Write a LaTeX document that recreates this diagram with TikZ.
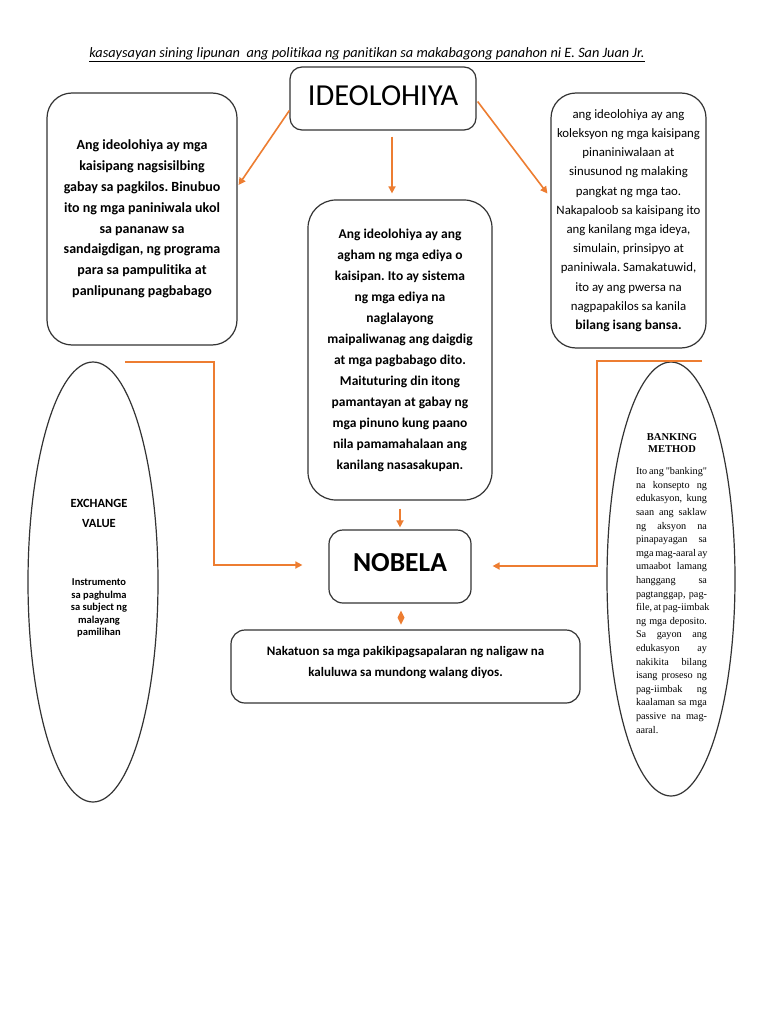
\documentclass[tikz,border=0pt]{standalone}
\usepackage{fontspec}
\setmainfont[Ligatures=NoCommon]{Carlito}
\newfontfamily\timesf{Liberation Serif}
\usetikzlibrary{arrows.meta,calc,shapes.geometric}
\definecolor{org}{HTML}{ED7D31}
\definecolor{bx}{HTML}{333333}
\newcommand{\jl}[1]{\makebox[71pt][s]{#1}\\}
\frenchspacing
\begin{document}
\begin{tikzpicture}[x=1pt,y=-1pt,
  rbox/.style={draw=bx,line width=1.2pt,inner sep=0pt,align=center},
  conn/.style={draw=org,line width=1.6pt,-{Triangle[length=7pt,width=7pt]}},
  txt/.style={inner sep=0pt,align=center}]
\fill[white] (0,0) rectangle (768,1024);
\useasboundingbox (0,0) rectangle (768,1024);

\node[txt,font=\fontsize{14.3}{16}\selectfont\itshape] (title) at (367,55)
  {\underline{kasaysayan sining lipunan\ \ ang politikaa ng panitikan sa makabagong panahon ni E. San Juan Jr.}};

% IDEOLOHIYA
\node[rbox,rounded corners=12pt,minimum width=186pt,minimum height=63pt] (ideo) at (383,98.5) {};
\node[txt,font=\fontsize{30.5}{32}\selectfont] (ideot) at ($(ideo.center)+(0,-3)$) {IDEOLOHIYA};

% left box
\node[rbox,rounded corners=25pt,minimum width=190pt,minimum height=252pt,
  font=\fontsize{14}{20.8}\selectfont\bfseries] (lbox) at (142,219)
  {Ang ideolohiya ay mga\\ kaisipang nagsisilbing\\ gabay sa pagkilos. Binubuo\\ ito ng mga paniniwala ukol\\ sa pananaw sa\\ sandaigdigan, ng programa\\ para sa pampulitika at\\ panlipunang pagbabago};

% right box
\node[rbox,rounded corners=25pt,minimum width=155pt,minimum height=255pt,
  font=\fontsize{12.8}{19.2}\selectfont] (rbox) at (628.5,220.5)
  {ang ideolohiya ay ang\\ koleksyon ng mga kaisipang\\ pinaniniwalaan at\\ sinusunod ng malaking\\ pangkat ng mga tao.\\ Nakapaloob sa kaisipang ito\\ ang kanilang mga ideya,\\ simulain, prinsipyo at\\ paniniwala. Samakatuwid,\\ ito ay ang pwersa na\\ nagpapakilos sa kanila\\ {\fontsize{13.5}{19.2}\selectfont\bfseries bilang isang bansa.}};

% middle box
\node[rbox,rounded corners=28pt,minimum width=184pt,minimum height=300pt,
  font=\fontsize{13.5}{21}\selectfont\bfseries] (mid) at (400,350)
  {Ang ideolohiya ay ang\\ agham ng mga ediya o\\ kaisipan. Ito ay sistema\\ ng mga ediya na\\ naglalayong\\ maipaliwanag ang daigdig\\ at mga pagbabago dito.\\ Maituturing din itong\\ pamantayan at gabay ng\\ mga pinuno kung paano\\ nila pamamahalaan ang\\ kanilang nasasakupan.};

% NOBELA
\node[rbox,rounded corners=14pt,minimum width=142pt,minimum height=73pt] (nob) at (400,566.5) {};
\node[txt,font=\fontsize{27.5}{29}\selectfont\bfseries] (nobt) at ($(nob.center)+(0,-4)$) {NOBELA};

% bottom box
\node[rbox,rounded corners=14pt,minimum width=349pt,minimum height=73pt] (bot) at (405.5,666.5) {};
\node[txt,font=\fontsize{13}{21}\selectfont\bfseries] (bott) at ($(bot.center)+(0,-4)$)
  {Nakatuon sa mga pakikipagsapalaran ng naligaw na\\ kaluluwa sa mundong walang diyos.};

% left ellipse
\node[draw=bx,line width=1.2pt,ellipse,minimum width=130pt,minimum height=440pt,inner sep=0pt] (lell) at (93,582) {};
\node[txt,font=\fontsize{12.5}{20}\selectfont\bfseries] (exch) at (99,513) {EXCHANGE\\ VALUE};
\node[txt,font=\fontsize{10.5}{12.5}\selectfont\bfseries] (instr) at (99,608)
  {Instrumento\\ sa paghulma\\ sa subject ng\\ malayang\\ pamilihan};

% right ellipse
\node[draw=bx,line width=1.2pt,ellipse,minimum width=128pt,minimum height=434pt,inner sep=0pt] (rell) at (671,579) {};
\node[txt,font=\fontsize{10.5}{12.5}\selectfont\timesf\bfseries] (bank) at (672,443) {BANKING\\ METHOD};
\node[inner sep=0pt,align=left,font=\fontsize{10.2}{13.6}\selectfont\timesf] (bankp) at (671.5,600.5)
  {\jl{Ito ang "banking"}\jl{na konsepto ng}\jl{edukasyon, kung}\jl{saan ang saklaw}\jl{ng aksyon na}%
   \jl{pinapayagan sa}\jl{mga mag-aaral ay}\jl{umaabot lamang}\jl{hanggang sa}\jl{pagtanggap, pag-}%
   \jl{file, at pag-iimbak}\jl{ng mga deposito.}\jl{Sa gayon ang}\jl{edukasyon ay}\jl{nakikita bilang}%
   \jl{isang proseso ng}\jl{pag-iimbak ng}\jl{kaalaman sa mga}\jl{passive na mag-}aaral.};

% connectors
\draw[conn] ($(ideo.west)+(0,12)$) -- ($(lbox.east)+(1,-34)$);
\draw[conn] ($(ideo.south)+(9,6)$) -- ($(mid.north)+(-8,-6)$);
\draw[conn] ($(ideo.east)+(1,3)$) -- ($(rbox.west)+(-3,-27)$);
\draw[conn] ($(mid.south)+(0,8)$) -- ($(nob.north)+(0,-2)$);

\coordinate (lstart) at (125,362);
\coordinate (lturn) at (214,362);
\draw[conn] (lstart) -- (lturn) |- ($(nob.west)+(-26,-1.5)$);
\coordinate (rstart) at (702,361);
\coordinate (rturn) at (597,361);
\draw[conn] (rstart) -- (rturn) |- ($(nob.east)+(21,-0.5)$);

% diamond connector between NOBELA and the bottom box
\coordinate (dtop) at ($(nob.south)+(1,7)$);
\coordinate (dbot) at ($(nob.south)+(1,21)$);
\fill[org] (dtop) -- ($(dtop)!0.5!(dbot)+(3.5,0)$) -- (dbot) -- ($(dtop)!0.5!(dbot)+(-3.5,0)$) -- cycle;
\end{tikzpicture}
\end{document}
